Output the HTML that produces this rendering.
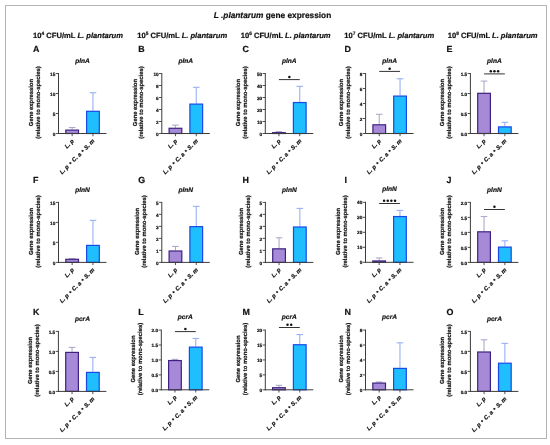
<!DOCTYPE html>
<html><head><meta charset="utf-8"><style>
html,body{margin:0;padding:0;background:#fff;}
svg{display:block;font-family:"Liberation Sans", sans-serif;will-change:transform;}
text{fill:#111;stroke:#111;stroke-width:0.2px;stroke-linejoin:round;text-rendering:geometricPrecision;}
</style></head><body>
<svg width="550" height="445" viewBox="0 0 550 445">
<rect width="550" height="445" fill="#fff"/>
<rect x="5.5" y="5.5" width="541" height="433" fill="none" stroke="#b4b4b4" stroke-width="1"/>
<text x="272.5" y="18.2" font-size="8.3" font-weight="bold" text-anchor="middle"><tspan font-style="italic">L .plantarum</tspan> gene expression</text>
<text x="33.10" y="38.0" font-size="7.6" font-weight="bold">10<tspan font-size="4.8" dy="-3.5">4</tspan><tspan dy="3.5"> CFU/mL </tspan><tspan font-style="italic">L. plantarum</tspan></text>
<text x="137.30" y="38.0" font-size="7.6" font-weight="bold">10<tspan font-size="4.8" dy="-3.5">5</tspan><tspan dy="3.5"> CFU/mL </tspan><tspan font-style="italic">L. plantarum</tspan></text>
<text x="240.70" y="38.0" font-size="7.6" font-weight="bold">10<tspan font-size="4.8" dy="-3.5">6</tspan><tspan dy="3.5"> CFU/mL </tspan><tspan font-style="italic">L. plantarum</tspan></text>
<text x="344.30" y="38.0" font-size="7.6" font-weight="bold">10<tspan font-size="4.8" dy="-3.5">7</tspan><tspan dy="3.5"> CFU/mL </tspan><tspan font-style="italic">L. plantarum</tspan></text>
<text x="447.70" y="38.0" font-size="7.6" font-weight="bold">10<tspan font-size="4.8" dy="-3.5">8</tspan><tspan dy="3.5"> CFU/mL </tspan><tspan font-style="italic">L. plantarum</tspan></text>
<text x="33.00" y="51.60" font-size="8.9" font-weight="bold" font-style="normal" text-anchor="start" >A</text>
<text x="82.50" y="62.65" font-size="6.6" font-weight="bold" font-style="italic" text-anchor="middle" >plnA</text>
<g transform="translate(33.27,102.60) rotate(-90)"><text x="0" y="0" font-size="5.85" font-weight="bold" text-anchor="middle">Gene expression</text><text x="0" y="6.9" font-size="5.85" font-weight="bold" text-anchor="middle">(relative to mono-species)</text></g>
<line x1="72.15" y1="127.50" x2="72.15" y2="129.50" stroke="#aeaac8" stroke-width="1.1"/>
<line x1="68.85" y1="127.50" x2="75.45" y2="127.50" stroke="#aeaac8" stroke-width="1.1"/>
<rect x="65.80" y="130.10" width="12.70" height="3.40" fill="#a68ad8" stroke="#3d2080" stroke-width="1.2"/>
<line x1="92.95" y1="92.70" x2="92.95" y2="110.70" stroke="#98b0f6" stroke-width="1.1"/>
<line x1="89.65" y1="92.70" x2="96.25" y2="92.70" stroke="#98b0f6" stroke-width="1.1"/>
<rect x="86.60" y="111.30" width="12.70" height="22.20" fill="#1ebeff" stroke="#1a48e8" stroke-width="1.2"/>
<line x1="58.50" y1="73.00" x2="58.50" y2="134.00" stroke="#3c3c3c" stroke-width="1"/>
<line x1="58.00" y1="133.50" x2="106.50" y2="133.50" stroke="#3c3c3c" stroke-width="1"/>
<line x1="55.80" y1="133.50" x2="58.50" y2="133.50" stroke="#3c3c3c" stroke-width="0.9"/>
<text x="55.30" y="135.60" font-size="4.7" font-weight="bold" font-style="normal" text-anchor="end" >0</text>
<line x1="55.80" y1="113.50" x2="58.50" y2="113.50" stroke="#3c3c3c" stroke-width="0.9"/>
<text x="55.30" y="115.60" font-size="4.7" font-weight="bold" font-style="normal" text-anchor="end" >5</text>
<line x1="55.80" y1="93.50" x2="58.50" y2="93.50" stroke="#3c3c3c" stroke-width="0.9"/>
<text x="55.30" y="95.60" font-size="4.7" font-weight="bold" font-style="normal" text-anchor="end" >10</text>
<line x1="55.80" y1="73.50" x2="58.50" y2="73.50" stroke="#3c3c3c" stroke-width="0.9"/>
<text x="55.30" y="75.60" font-size="4.7" font-weight="bold" font-style="normal" text-anchor="end" >15</text>
<line x1="72.15" y1="133.50" x2="72.15" y2="136.20" stroke="#3c3c3c" stroke-width="0.9"/>
<text transform="translate(74.25,141.40) rotate(-45)" font-size="5.85" font-weight="bold" font-style="italic" text-anchor="end">L. p</text>
<line x1="92.95" y1="133.50" x2="92.95" y2="136.20" stroke="#3c3c3c" stroke-width="0.9"/>
<text transform="translate(95.05,141.40) rotate(-45)" font-size="5.85" font-weight="bold" font-style="italic" text-anchor="end">L. p <tspan dx="0.7" font-size="6.6">•</tspan><tspan dx="0.5"> C. a </tspan><tspan dx="0.5" font-size="6.6">•</tspan><tspan dx="0.5"> S. m</tspan></text>
<text x="138.20" y="51.60" font-size="8.9" font-weight="bold" font-style="normal" text-anchor="start" >B</text>
<text x="185.80" y="62.65" font-size="6.6" font-weight="bold" font-style="italic" text-anchor="middle" >plnA</text>
<g transform="translate(136.57,102.60) rotate(-90)"><text x="0" y="0" font-size="5.85" font-weight="bold" text-anchor="middle">Gene expression</text><text x="0" y="6.9" font-size="5.85" font-weight="bold" text-anchor="middle">(relative to mono-species)</text></g>
<line x1="175.45" y1="125.10" x2="175.45" y2="127.68" stroke="#aeaac8" stroke-width="1.1"/>
<line x1="172.15" y1="125.10" x2="178.75" y2="125.10" stroke="#aeaac8" stroke-width="1.1"/>
<rect x="169.10" y="128.28" width="12.70" height="5.22" fill="#a68ad8" stroke="#3d2080" stroke-width="1.2"/>
<line x1="196.25" y1="87.30" x2="196.25" y2="103.50" stroke="#98b0f6" stroke-width="1.1"/>
<line x1="192.95" y1="87.30" x2="199.55" y2="87.30" stroke="#98b0f6" stroke-width="1.1"/>
<rect x="189.90" y="104.10" width="12.70" height="29.40" fill="#1ebeff" stroke="#1a48e8" stroke-width="1.2"/>
<line x1="161.80" y1="73.00" x2="161.80" y2="134.00" stroke="#3c3c3c" stroke-width="1"/>
<line x1="161.30" y1="133.50" x2="209.80" y2="133.50" stroke="#3c3c3c" stroke-width="1"/>
<line x1="159.10" y1="133.50" x2="161.80" y2="133.50" stroke="#3c3c3c" stroke-width="0.9"/>
<text x="158.60" y="135.60" font-size="4.7" font-weight="bold" font-style="normal" text-anchor="end" >0</text>
<line x1="159.10" y1="121.50" x2="161.80" y2="121.50" stroke="#3c3c3c" stroke-width="0.9"/>
<text x="158.60" y="123.60" font-size="4.7" font-weight="bold" font-style="normal" text-anchor="end" >2</text>
<line x1="159.10" y1="109.50" x2="161.80" y2="109.50" stroke="#3c3c3c" stroke-width="0.9"/>
<text x="158.60" y="111.60" font-size="4.7" font-weight="bold" font-style="normal" text-anchor="end" >4</text>
<line x1="159.10" y1="97.50" x2="161.80" y2="97.50" stroke="#3c3c3c" stroke-width="0.9"/>
<text x="158.60" y="99.60" font-size="4.7" font-weight="bold" font-style="normal" text-anchor="end" >6</text>
<line x1="159.10" y1="85.50" x2="161.80" y2="85.50" stroke="#3c3c3c" stroke-width="0.9"/>
<text x="158.60" y="87.60" font-size="4.7" font-weight="bold" font-style="normal" text-anchor="end" >8</text>
<line x1="159.10" y1="73.50" x2="161.80" y2="73.50" stroke="#3c3c3c" stroke-width="0.9"/>
<text x="158.60" y="75.60" font-size="4.7" font-weight="bold" font-style="normal" text-anchor="end" >10</text>
<line x1="175.45" y1="133.50" x2="175.45" y2="136.20" stroke="#3c3c3c" stroke-width="0.9"/>
<text transform="translate(177.55,141.40) rotate(-45)" font-size="5.85" font-weight="bold" font-style="italic" text-anchor="end">L. p</text>
<line x1="196.25" y1="133.50" x2="196.25" y2="136.20" stroke="#3c3c3c" stroke-width="0.9"/>
<text transform="translate(198.35,141.40) rotate(-45)" font-size="5.85" font-weight="bold" font-style="italic" text-anchor="end">L. p <tspan dx="0.7" font-size="6.6">•</tspan><tspan dx="0.5"> C. a </tspan><tspan dx="0.5" font-size="6.6">•</tspan><tspan dx="0.5"> S. m</tspan></text>
<text x="242.60" y="51.60" font-size="8.9" font-weight="bold" font-style="normal" text-anchor="start" >C</text>
<text x="289.30" y="62.65" font-size="6.6" font-weight="bold" font-style="italic" text-anchor="middle" >plnA</text>
<g transform="translate(240.07,102.60) rotate(-90)"><text x="0" y="0" font-size="5.85" font-weight="bold" text-anchor="middle">Gene expression</text><text x="0" y="6.9" font-size="5.85" font-weight="bold" text-anchor="middle">(relative to mono-species)</text></g>
<line x1="278.95" y1="131.58" x2="278.95" y2="132.06" stroke="#aeaac8" stroke-width="1.1"/>
<line x1="275.65" y1="131.58" x2="282.25" y2="131.58" stroke="#aeaac8" stroke-width="1.1"/>
<rect x="272.60" y="132.66" width="12.70" height="0.84" fill="#a68ad8" stroke="#3d2080" stroke-width="1.2"/>
<line x1="299.75" y1="86.34" x2="299.75" y2="101.94" stroke="#98b0f6" stroke-width="1.1"/>
<line x1="296.45" y1="86.34" x2="303.05" y2="86.34" stroke="#98b0f6" stroke-width="1.1"/>
<rect x="293.40" y="102.54" width="12.70" height="30.96" fill="#1ebeff" stroke="#1a48e8" stroke-width="1.2"/>
<line x1="265.30" y1="73.00" x2="265.30" y2="134.00" stroke="#3c3c3c" stroke-width="1"/>
<line x1="264.80" y1="133.50" x2="313.30" y2="133.50" stroke="#3c3c3c" stroke-width="1"/>
<line x1="262.60" y1="133.50" x2="265.30" y2="133.50" stroke="#3c3c3c" stroke-width="0.9"/>
<text x="262.10" y="135.60" font-size="4.7" font-weight="bold" font-style="normal" text-anchor="end" >0</text>
<line x1="262.60" y1="121.50" x2="265.30" y2="121.50" stroke="#3c3c3c" stroke-width="0.9"/>
<text x="262.10" y="123.60" font-size="4.7" font-weight="bold" font-style="normal" text-anchor="end" >10</text>
<line x1="262.60" y1="109.50" x2="265.30" y2="109.50" stroke="#3c3c3c" stroke-width="0.9"/>
<text x="262.10" y="111.60" font-size="4.7" font-weight="bold" font-style="normal" text-anchor="end" >20</text>
<line x1="262.60" y1="97.50" x2="265.30" y2="97.50" stroke="#3c3c3c" stroke-width="0.9"/>
<text x="262.10" y="99.60" font-size="4.7" font-weight="bold" font-style="normal" text-anchor="end" >30</text>
<line x1="262.60" y1="85.50" x2="265.30" y2="85.50" stroke="#3c3c3c" stroke-width="0.9"/>
<text x="262.10" y="87.60" font-size="4.7" font-weight="bold" font-style="normal" text-anchor="end" >40</text>
<line x1="262.60" y1="73.50" x2="265.30" y2="73.50" stroke="#3c3c3c" stroke-width="0.9"/>
<text x="262.10" y="75.60" font-size="4.7" font-weight="bold" font-style="normal" text-anchor="end" >50</text>
<line x1="278.95" y1="133.50" x2="278.95" y2="136.20" stroke="#3c3c3c" stroke-width="0.9"/>
<text transform="translate(281.05,141.40) rotate(-45)" font-size="5.85" font-weight="bold" font-style="italic" text-anchor="end">L. p</text>
<line x1="299.75" y1="133.50" x2="299.75" y2="136.20" stroke="#3c3c3c" stroke-width="0.9"/>
<text transform="translate(301.85,141.40) rotate(-45)" font-size="5.85" font-weight="bold" font-style="italic" text-anchor="end">L. p <tspan dx="0.7" font-size="6.6">•</tspan><tspan dx="0.5"> C. a </tspan><tspan dx="0.5" font-size="6.6">•</tspan><tspan dx="0.5"> S. m</tspan></text>
<line x1="278.95" y1="79.60" x2="299.75" y2="79.60" stroke="#333" stroke-width="1"/>
<circle cx="289.35" cy="76.90" r="1.25" fill="#111"/>
<text x="344.40" y="51.60" font-size="8.9" font-weight="bold" font-style="normal" text-anchor="start" >D</text>
<text x="389.60" y="62.65" font-size="6.6" font-weight="bold" font-style="italic" text-anchor="middle" >plnA</text>
<g transform="translate(342.99,102.60) rotate(-90)"><text x="0" y="0" font-size="5.85" font-weight="bold" text-anchor="middle">Gene expression</text><text x="0" y="6.9" font-size="5.85" font-weight="bold" text-anchor="middle">(relative to mono-species)</text></g>
<line x1="379.25" y1="114.30" x2="379.25" y2="124.20" stroke="#aeaac8" stroke-width="1.1"/>
<line x1="375.95" y1="114.30" x2="382.55" y2="114.30" stroke="#aeaac8" stroke-width="1.1"/>
<rect x="372.90" y="124.80" width="12.70" height="8.70" fill="#a68ad8" stroke="#3d2080" stroke-width="1.2"/>
<line x1="400.05" y1="78.75" x2="400.05" y2="95.47" stroke="#98b0f6" stroke-width="1.1"/>
<line x1="396.75" y1="78.75" x2="403.35" y2="78.75" stroke="#98b0f6" stroke-width="1.1"/>
<rect x="393.70" y="96.07" width="12.70" height="37.43" fill="#1ebeff" stroke="#1a48e8" stroke-width="1.2"/>
<line x1="365.60" y1="73.00" x2="365.60" y2="134.00" stroke="#3c3c3c" stroke-width="1"/>
<line x1="365.10" y1="133.50" x2="413.60" y2="133.50" stroke="#3c3c3c" stroke-width="1"/>
<line x1="362.90" y1="133.50" x2="365.60" y2="133.50" stroke="#3c3c3c" stroke-width="0.9"/>
<text x="362.40" y="135.60" font-size="4.7" font-weight="bold" font-style="normal" text-anchor="end" >0</text>
<line x1="362.90" y1="118.50" x2="365.60" y2="118.50" stroke="#3c3c3c" stroke-width="0.9"/>
<text x="362.40" y="120.60" font-size="4.7" font-weight="bold" font-style="normal" text-anchor="end" >2</text>
<line x1="362.90" y1="103.50" x2="365.60" y2="103.50" stroke="#3c3c3c" stroke-width="0.9"/>
<text x="362.40" y="105.60" font-size="4.7" font-weight="bold" font-style="normal" text-anchor="end" >4</text>
<line x1="362.90" y1="88.50" x2="365.60" y2="88.50" stroke="#3c3c3c" stroke-width="0.9"/>
<text x="362.40" y="90.60" font-size="4.7" font-weight="bold" font-style="normal" text-anchor="end" >6</text>
<line x1="362.90" y1="73.50" x2="365.60" y2="73.50" stroke="#3c3c3c" stroke-width="0.9"/>
<text x="362.40" y="75.60" font-size="4.7" font-weight="bold" font-style="normal" text-anchor="end" >8</text>
<line x1="379.25" y1="133.50" x2="379.25" y2="136.20" stroke="#3c3c3c" stroke-width="0.9"/>
<text transform="translate(381.35,141.40) rotate(-45)" font-size="5.85" font-weight="bold" font-style="italic" text-anchor="end">L. p</text>
<line x1="400.05" y1="133.50" x2="400.05" y2="136.20" stroke="#3c3c3c" stroke-width="0.9"/>
<text transform="translate(402.15,141.40) rotate(-45)" font-size="5.85" font-weight="bold" font-style="italic" text-anchor="end">L. p <tspan dx="0.7" font-size="6.6">•</tspan><tspan dx="0.5"> C. a </tspan><tspan dx="0.5" font-size="6.6">•</tspan><tspan dx="0.5"> S. m</tspan></text>
<line x1="379.25" y1="71.40" x2="400.05" y2="71.40" stroke="#333" stroke-width="1"/>
<circle cx="389.65" cy="68.70" r="1.25" fill="#111"/>
<text x="446.40" y="51.60" font-size="8.9" font-weight="bold" font-style="normal" text-anchor="start" >E</text>
<text x="494.40" y="62.65" font-size="6.6" font-weight="bold" font-style="italic" text-anchor="middle" >plnA</text>
<g transform="translate(443.87,102.60) rotate(-90)"><text x="0" y="0" font-size="5.85" font-weight="bold" text-anchor="middle">Gene expression</text><text x="0" y="6.9" font-size="5.85" font-weight="bold" text-anchor="middle">(relative to mono-species)</text></g>
<line x1="484.05" y1="81.10" x2="484.05" y2="92.70" stroke="#aeaac8" stroke-width="1.1"/>
<line x1="480.75" y1="81.10" x2="487.35" y2="81.10" stroke="#aeaac8" stroke-width="1.1"/>
<rect x="477.70" y="93.30" width="12.70" height="40.20" fill="#a68ad8" stroke="#3d2080" stroke-width="1.2"/>
<line x1="504.85" y1="122.30" x2="504.85" y2="126.30" stroke="#98b0f6" stroke-width="1.1"/>
<line x1="501.55" y1="122.30" x2="508.15" y2="122.30" stroke="#98b0f6" stroke-width="1.1"/>
<rect x="498.50" y="126.90" width="12.70" height="6.60" fill="#1ebeff" stroke="#1a48e8" stroke-width="1.2"/>
<line x1="470.40" y1="73.00" x2="470.40" y2="134.00" stroke="#3c3c3c" stroke-width="1"/>
<line x1="469.90" y1="133.50" x2="518.40" y2="133.50" stroke="#3c3c3c" stroke-width="1"/>
<line x1="467.70" y1="133.50" x2="470.40" y2="133.50" stroke="#3c3c3c" stroke-width="0.9"/>
<text x="467.20" y="135.60" font-size="4.7" font-weight="bold" font-style="normal" text-anchor="end" >0.0</text>
<line x1="467.70" y1="113.50" x2="470.40" y2="113.50" stroke="#3c3c3c" stroke-width="0.9"/>
<text x="467.20" y="115.60" font-size="4.7" font-weight="bold" font-style="normal" text-anchor="end" >0.5</text>
<line x1="467.70" y1="93.50" x2="470.40" y2="93.50" stroke="#3c3c3c" stroke-width="0.9"/>
<text x="467.20" y="95.60" font-size="4.7" font-weight="bold" font-style="normal" text-anchor="end" >1.0</text>
<line x1="467.70" y1="73.50" x2="470.40" y2="73.50" stroke="#3c3c3c" stroke-width="0.9"/>
<text x="467.20" y="75.60" font-size="4.7" font-weight="bold" font-style="normal" text-anchor="end" >1.5</text>
<line x1="484.05" y1="133.50" x2="484.05" y2="136.20" stroke="#3c3c3c" stroke-width="0.9"/>
<text transform="translate(486.15,141.40) rotate(-45)" font-size="5.85" font-weight="bold" font-style="italic" text-anchor="end">L. p</text>
<line x1="504.85" y1="133.50" x2="504.85" y2="136.20" stroke="#3c3c3c" stroke-width="0.9"/>
<text transform="translate(506.95,141.40) rotate(-45)" font-size="5.85" font-weight="bold" font-style="italic" text-anchor="end">L. p <tspan dx="0.7" font-size="6.6">•</tspan><tspan dx="0.5"> C. a </tspan><tspan dx="0.5" font-size="6.6">•</tspan><tspan dx="0.5"> S. m</tspan></text>
<line x1="484.05" y1="73.90" x2="504.85" y2="73.90" stroke="#333" stroke-width="1"/>
<circle cx="490.80" cy="71.20" r="1.25" fill="#111"/>
<circle cx="494.45" cy="71.20" r="1.25" fill="#111"/>
<circle cx="498.10" cy="71.20" r="1.25" fill="#111"/>
<text x="33.00" y="183.00" font-size="8.9" font-weight="bold" font-style="normal" text-anchor="start" >F</text>
<text x="82.50" y="191.55" font-size="6.6" font-weight="bold" font-style="italic" text-anchor="middle" >plnN</text>
<g transform="translate(33.27,231.50) rotate(-90)"><text x="0" y="0" font-size="5.85" font-weight="bold" text-anchor="middle">Gene expression</text><text x="0" y="6.9" font-size="5.85" font-weight="bold" text-anchor="middle">(relative to mono-species)</text></g>
<line x1="72.15" y1="258.68" x2="72.15" y2="258.68" stroke="#aeaac8" stroke-width="1.1"/>
<line x1="68.85" y1="258.68" x2="75.45" y2="258.68" stroke="#aeaac8" stroke-width="1.1"/>
<rect x="65.80" y="259.28" width="12.70" height="3.12" fill="#a68ad8" stroke="#3d2080" stroke-width="1.2"/>
<line x1="92.95" y1="220.40" x2="92.95" y2="244.80" stroke="#98b0f6" stroke-width="1.1"/>
<line x1="89.65" y1="220.40" x2="96.25" y2="220.40" stroke="#98b0f6" stroke-width="1.1"/>
<rect x="86.60" y="245.40" width="12.70" height="17.00" fill="#1ebeff" stroke="#1a48e8" stroke-width="1.2"/>
<line x1="58.50" y1="201.90" x2="58.50" y2="262.90" stroke="#3c3c3c" stroke-width="1"/>
<line x1="58.00" y1="262.40" x2="106.50" y2="262.40" stroke="#3c3c3c" stroke-width="1"/>
<line x1="55.80" y1="262.40" x2="58.50" y2="262.40" stroke="#3c3c3c" stroke-width="0.9"/>
<text x="55.30" y="264.50" font-size="4.7" font-weight="bold" font-style="normal" text-anchor="end" >0</text>
<line x1="55.80" y1="242.40" x2="58.50" y2="242.40" stroke="#3c3c3c" stroke-width="0.9"/>
<text x="55.30" y="244.50" font-size="4.7" font-weight="bold" font-style="normal" text-anchor="end" >5</text>
<line x1="55.80" y1="222.40" x2="58.50" y2="222.40" stroke="#3c3c3c" stroke-width="0.9"/>
<text x="55.30" y="224.50" font-size="4.7" font-weight="bold" font-style="normal" text-anchor="end" >10</text>
<line x1="55.80" y1="202.40" x2="58.50" y2="202.40" stroke="#3c3c3c" stroke-width="0.9"/>
<text x="55.30" y="204.50" font-size="4.7" font-weight="bold" font-style="normal" text-anchor="end" >15</text>
<line x1="72.15" y1="262.40" x2="72.15" y2="265.10" stroke="#3c3c3c" stroke-width="0.9"/>
<text transform="translate(74.25,270.30) rotate(-45)" font-size="5.85" font-weight="bold" font-style="italic" text-anchor="end">L. p</text>
<line x1="92.95" y1="262.40" x2="92.95" y2="265.10" stroke="#3c3c3c" stroke-width="0.9"/>
<text transform="translate(95.05,270.30) rotate(-45)" font-size="5.85" font-weight="bold" font-style="italic" text-anchor="end">L. p <tspan dx="0.7" font-size="6.6">•</tspan><tspan dx="0.5"> C. a </tspan><tspan dx="0.5" font-size="6.6">•</tspan><tspan dx="0.5"> S. m</tspan></text>
<text x="138.20" y="183.00" font-size="8.9" font-weight="bold" font-style="normal" text-anchor="start" >G</text>
<text x="185.80" y="191.55" font-size="6.6" font-weight="bold" font-style="italic" text-anchor="middle" >plnN</text>
<g transform="translate(139.19,231.50) rotate(-90)"><text x="0" y="0" font-size="5.85" font-weight="bold" text-anchor="middle">Gene expression</text><text x="0" y="6.9" font-size="5.85" font-weight="bold" text-anchor="middle">(relative to mono-species)</text></g>
<line x1="175.45" y1="246.44" x2="175.45" y2="250.40" stroke="#aeaac8" stroke-width="1.1"/>
<line x1="172.15" y1="246.44" x2="178.75" y2="246.44" stroke="#aeaac8" stroke-width="1.1"/>
<rect x="169.10" y="251.00" width="12.70" height="11.40" fill="#a68ad8" stroke="#3d2080" stroke-width="1.2"/>
<line x1="196.25" y1="206.36" x2="196.25" y2="226.04" stroke="#98b0f6" stroke-width="1.1"/>
<line x1="192.95" y1="206.36" x2="199.55" y2="206.36" stroke="#98b0f6" stroke-width="1.1"/>
<rect x="189.90" y="226.64" width="12.70" height="35.76" fill="#1ebeff" stroke="#1a48e8" stroke-width="1.2"/>
<line x1="161.80" y1="201.90" x2="161.80" y2="262.90" stroke="#3c3c3c" stroke-width="1"/>
<line x1="161.30" y1="262.40" x2="209.80" y2="262.40" stroke="#3c3c3c" stroke-width="1"/>
<line x1="159.10" y1="262.40" x2="161.80" y2="262.40" stroke="#3c3c3c" stroke-width="0.9"/>
<text x="158.60" y="264.50" font-size="4.7" font-weight="bold" font-style="normal" text-anchor="end" >0</text>
<line x1="159.10" y1="250.40" x2="161.80" y2="250.40" stroke="#3c3c3c" stroke-width="0.9"/>
<text x="158.60" y="252.50" font-size="4.7" font-weight="bold" font-style="normal" text-anchor="end" >1</text>
<line x1="159.10" y1="238.40" x2="161.80" y2="238.40" stroke="#3c3c3c" stroke-width="0.9"/>
<text x="158.60" y="240.50" font-size="4.7" font-weight="bold" font-style="normal" text-anchor="end" >2</text>
<line x1="159.10" y1="226.40" x2="161.80" y2="226.40" stroke="#3c3c3c" stroke-width="0.9"/>
<text x="158.60" y="228.50" font-size="4.7" font-weight="bold" font-style="normal" text-anchor="end" >3</text>
<line x1="159.10" y1="214.40" x2="161.80" y2="214.40" stroke="#3c3c3c" stroke-width="0.9"/>
<text x="158.60" y="216.50" font-size="4.7" font-weight="bold" font-style="normal" text-anchor="end" >4</text>
<line x1="159.10" y1="202.40" x2="161.80" y2="202.40" stroke="#3c3c3c" stroke-width="0.9"/>
<text x="158.60" y="204.50" font-size="4.7" font-weight="bold" font-style="normal" text-anchor="end" >5</text>
<line x1="175.45" y1="262.40" x2="175.45" y2="265.10" stroke="#3c3c3c" stroke-width="0.9"/>
<text transform="translate(177.55,270.30) rotate(-45)" font-size="5.85" font-weight="bold" font-style="italic" text-anchor="end">L. p</text>
<line x1="196.25" y1="262.40" x2="196.25" y2="265.10" stroke="#3c3c3c" stroke-width="0.9"/>
<text transform="translate(198.35,270.30) rotate(-45)" font-size="5.85" font-weight="bold" font-style="italic" text-anchor="end">L. p <tspan dx="0.7" font-size="6.6">•</tspan><tspan dx="0.5"> C. a </tspan><tspan dx="0.5" font-size="6.6">•</tspan><tspan dx="0.5"> S. m</tspan></text>
<text x="242.60" y="183.00" font-size="8.9" font-weight="bold" font-style="normal" text-anchor="start" >H</text>
<text x="289.40" y="191.55" font-size="6.6" font-weight="bold" font-style="italic" text-anchor="middle" >plnN</text>
<g transform="translate(242.79,231.50) rotate(-90)"><text x="0" y="0" font-size="5.85" font-weight="bold" text-anchor="middle">Gene expression</text><text x="0" y="6.9" font-size="5.85" font-weight="bold" text-anchor="middle">(relative to mono-species)</text></g>
<line x1="279.05" y1="237.80" x2="279.05" y2="248.24" stroke="#aeaac8" stroke-width="1.1"/>
<line x1="275.75" y1="237.80" x2="282.35" y2="237.80" stroke="#aeaac8" stroke-width="1.1"/>
<rect x="272.70" y="248.84" width="12.70" height="13.56" fill="#a68ad8" stroke="#3d2080" stroke-width="1.2"/>
<line x1="299.85" y1="208.40" x2="299.85" y2="226.40" stroke="#98b0f6" stroke-width="1.1"/>
<line x1="296.55" y1="208.40" x2="303.15" y2="208.40" stroke="#98b0f6" stroke-width="1.1"/>
<rect x="293.50" y="227.00" width="12.70" height="35.40" fill="#1ebeff" stroke="#1a48e8" stroke-width="1.2"/>
<line x1="265.40" y1="201.90" x2="265.40" y2="262.90" stroke="#3c3c3c" stroke-width="1"/>
<line x1="264.90" y1="262.40" x2="313.40" y2="262.40" stroke="#3c3c3c" stroke-width="1"/>
<line x1="262.70" y1="262.40" x2="265.40" y2="262.40" stroke="#3c3c3c" stroke-width="0.9"/>
<text x="262.20" y="264.50" font-size="4.7" font-weight="bold" font-style="normal" text-anchor="end" >0</text>
<line x1="262.70" y1="250.40" x2="265.40" y2="250.40" stroke="#3c3c3c" stroke-width="0.9"/>
<text x="262.20" y="252.50" font-size="4.7" font-weight="bold" font-style="normal" text-anchor="end" >1</text>
<line x1="262.70" y1="238.40" x2="265.40" y2="238.40" stroke="#3c3c3c" stroke-width="0.9"/>
<text x="262.20" y="240.50" font-size="4.7" font-weight="bold" font-style="normal" text-anchor="end" >2</text>
<line x1="262.70" y1="226.40" x2="265.40" y2="226.40" stroke="#3c3c3c" stroke-width="0.9"/>
<text x="262.20" y="228.50" font-size="4.7" font-weight="bold" font-style="normal" text-anchor="end" >3</text>
<line x1="262.70" y1="214.40" x2="265.40" y2="214.40" stroke="#3c3c3c" stroke-width="0.9"/>
<text x="262.20" y="216.50" font-size="4.7" font-weight="bold" font-style="normal" text-anchor="end" >4</text>
<line x1="262.70" y1="202.40" x2="265.40" y2="202.40" stroke="#3c3c3c" stroke-width="0.9"/>
<text x="262.20" y="204.50" font-size="4.7" font-weight="bold" font-style="normal" text-anchor="end" >5</text>
<line x1="279.05" y1="262.40" x2="279.05" y2="265.10" stroke="#3c3c3c" stroke-width="0.9"/>
<text transform="translate(281.15,270.30) rotate(-45)" font-size="5.85" font-weight="bold" font-style="italic" text-anchor="end">L. p</text>
<line x1="299.85" y1="262.40" x2="299.85" y2="265.10" stroke="#3c3c3c" stroke-width="0.9"/>
<text transform="translate(301.95,270.30) rotate(-45)" font-size="5.85" font-weight="bold" font-style="italic" text-anchor="end">L. p <tspan dx="0.7" font-size="6.6">•</tspan><tspan dx="0.5"> C. a </tspan><tspan dx="0.5" font-size="6.6">•</tspan><tspan dx="0.5"> S. m</tspan></text>
<text x="344.40" y="183.00" font-size="8.9" font-weight="bold" font-style="normal" text-anchor="start" >I</text>
<text x="389.50" y="191.45" font-size="6.6" font-weight="bold" font-style="italic" text-anchor="middle" >plnN</text>
<g transform="translate(340.27,231.40) rotate(-90)"><text x="0" y="0" font-size="5.85" font-weight="bold" text-anchor="middle">Gene expression</text><text x="0" y="6.9" font-size="5.85" font-weight="bold" text-anchor="middle">(relative to mono-species)</text></g>
<line x1="379.15" y1="257.95" x2="379.15" y2="260.35" stroke="#aeaac8" stroke-width="1.1"/>
<line x1="375.85" y1="257.95" x2="382.45" y2="257.95" stroke="#aeaac8" stroke-width="1.1"/>
<rect x="372.80" y="260.95" width="12.70" height="1.35" fill="#a68ad8" stroke="#3d2080" stroke-width="1.2"/>
<line x1="399.95" y1="210.40" x2="399.95" y2="215.95" stroke="#98b0f6" stroke-width="1.1"/>
<line x1="396.65" y1="210.40" x2="403.25" y2="210.40" stroke="#98b0f6" stroke-width="1.1"/>
<rect x="393.60" y="216.55" width="12.70" height="45.75" fill="#1ebeff" stroke="#1a48e8" stroke-width="1.2"/>
<line x1="365.50" y1="201.80" x2="365.50" y2="262.80" stroke="#3c3c3c" stroke-width="1"/>
<line x1="365.00" y1="262.30" x2="413.50" y2="262.30" stroke="#3c3c3c" stroke-width="1"/>
<line x1="362.80" y1="262.30" x2="365.50" y2="262.30" stroke="#3c3c3c" stroke-width="0.9"/>
<text x="362.30" y="264.40" font-size="4.7" font-weight="bold" font-style="normal" text-anchor="end" >0</text>
<line x1="362.80" y1="247.30" x2="365.50" y2="247.30" stroke="#3c3c3c" stroke-width="0.9"/>
<text x="362.30" y="249.40" font-size="4.7" font-weight="bold" font-style="normal" text-anchor="end" >10</text>
<line x1="362.80" y1="232.30" x2="365.50" y2="232.30" stroke="#3c3c3c" stroke-width="0.9"/>
<text x="362.30" y="234.40" font-size="4.7" font-weight="bold" font-style="normal" text-anchor="end" >20</text>
<line x1="362.80" y1="217.30" x2="365.50" y2="217.30" stroke="#3c3c3c" stroke-width="0.9"/>
<text x="362.30" y="219.40" font-size="4.7" font-weight="bold" font-style="normal" text-anchor="end" >30</text>
<line x1="362.80" y1="202.30" x2="365.50" y2="202.30" stroke="#3c3c3c" stroke-width="0.9"/>
<text x="362.30" y="204.40" font-size="4.7" font-weight="bold" font-style="normal" text-anchor="end" >40</text>
<line x1="379.15" y1="262.30" x2="379.15" y2="265.00" stroke="#3c3c3c" stroke-width="0.9"/>
<text transform="translate(381.25,270.20) rotate(-45)" font-size="5.85" font-weight="bold" font-style="italic" text-anchor="end">L. p</text>
<line x1="399.95" y1="262.30" x2="399.95" y2="265.00" stroke="#3c3c3c" stroke-width="0.9"/>
<text transform="translate(402.05,270.20) rotate(-45)" font-size="5.85" font-weight="bold" font-style="italic" text-anchor="end">L. p <tspan dx="0.7" font-size="6.6">•</tspan><tspan dx="0.5"> C. a </tspan><tspan dx="0.5" font-size="6.6">•</tspan><tspan dx="0.5"> S. m</tspan></text>
<line x1="379.15" y1="203.50" x2="399.95" y2="203.50" stroke="#333" stroke-width="1"/>
<circle cx="384.07" cy="200.80" r="1.25" fill="#111"/>
<circle cx="387.72" cy="200.80" r="1.25" fill="#111"/>
<circle cx="391.37" cy="200.80" r="1.25" fill="#111"/>
<circle cx="395.02" cy="200.80" r="1.25" fill="#111"/>
<text x="446.40" y="183.00" font-size="8.9" font-weight="bold" font-style="normal" text-anchor="start" >J</text>
<text x="494.40" y="191.55" font-size="6.6" font-weight="bold" font-style="italic" text-anchor="middle" >plnN</text>
<g transform="translate(443.87,231.50) rotate(-90)"><text x="0" y="0" font-size="5.85" font-weight="bold" text-anchor="middle">Gene expression</text><text x="0" y="6.9" font-size="5.85" font-weight="bold" text-anchor="middle">(relative to mono-species)</text></g>
<line x1="484.05" y1="216.50" x2="484.05" y2="231.20" stroke="#aeaac8" stroke-width="1.1"/>
<line x1="480.75" y1="216.50" x2="487.35" y2="216.50" stroke="#aeaac8" stroke-width="1.1"/>
<rect x="477.70" y="231.80" width="12.70" height="30.60" fill="#a68ad8" stroke="#3d2080" stroke-width="1.2"/>
<line x1="504.85" y1="240.80" x2="504.85" y2="246.50" stroke="#98b0f6" stroke-width="1.1"/>
<line x1="501.55" y1="240.80" x2="508.15" y2="240.80" stroke="#98b0f6" stroke-width="1.1"/>
<rect x="498.50" y="247.10" width="12.70" height="15.30" fill="#1ebeff" stroke="#1a48e8" stroke-width="1.2"/>
<line x1="470.40" y1="201.90" x2="470.40" y2="262.90" stroke="#3c3c3c" stroke-width="1"/>
<line x1="469.90" y1="262.40" x2="518.40" y2="262.40" stroke="#3c3c3c" stroke-width="1"/>
<line x1="467.70" y1="262.40" x2="470.40" y2="262.40" stroke="#3c3c3c" stroke-width="0.9"/>
<text x="467.20" y="264.50" font-size="4.7" font-weight="bold" font-style="normal" text-anchor="end" >0.0</text>
<line x1="467.70" y1="247.40" x2="470.40" y2="247.40" stroke="#3c3c3c" stroke-width="0.9"/>
<text x="467.20" y="249.50" font-size="4.7" font-weight="bold" font-style="normal" text-anchor="end" >0.5</text>
<line x1="467.70" y1="232.40" x2="470.40" y2="232.40" stroke="#3c3c3c" stroke-width="0.9"/>
<text x="467.20" y="234.50" font-size="4.7" font-weight="bold" font-style="normal" text-anchor="end" >1.0</text>
<line x1="467.70" y1="217.40" x2="470.40" y2="217.40" stroke="#3c3c3c" stroke-width="0.9"/>
<text x="467.20" y="219.50" font-size="4.7" font-weight="bold" font-style="normal" text-anchor="end" >1.5</text>
<line x1="467.70" y1="202.40" x2="470.40" y2="202.40" stroke="#3c3c3c" stroke-width="0.9"/>
<text x="467.20" y="204.50" font-size="4.7" font-weight="bold" font-style="normal" text-anchor="end" >2.0</text>
<line x1="484.05" y1="262.40" x2="484.05" y2="265.10" stroke="#3c3c3c" stroke-width="0.9"/>
<text transform="translate(486.15,270.30) rotate(-45)" font-size="5.85" font-weight="bold" font-style="italic" text-anchor="end">L. p</text>
<line x1="504.85" y1="262.40" x2="504.85" y2="265.10" stroke="#3c3c3c" stroke-width="0.9"/>
<text transform="translate(506.95,270.30) rotate(-45)" font-size="5.85" font-weight="bold" font-style="italic" text-anchor="end">L. p <tspan dx="0.7" font-size="6.6">•</tspan><tspan dx="0.5"> C. a </tspan><tspan dx="0.5" font-size="6.6">•</tspan><tspan dx="0.5"> S. m</tspan></text>
<line x1="484.05" y1="209.50" x2="504.85" y2="209.50" stroke="#333" stroke-width="1"/>
<circle cx="494.45" cy="206.80" r="1.25" fill="#111"/>
<text x="33.00" y="314.90" font-size="8.9" font-weight="bold" font-style="normal" text-anchor="start" >K</text>
<text x="82.40" y="320.55" font-size="6.6" font-weight="bold" font-style="italic" text-anchor="middle" >pcrA</text>
<g transform="translate(31.87,360.50) rotate(-90)"><text x="0" y="0" font-size="5.85" font-weight="bold" text-anchor="middle">Gene expression</text><text x="0" y="6.9" font-size="5.85" font-weight="bold" text-anchor="middle">(relative to mono-species)</text></g>
<line x1="72.05" y1="347.40" x2="72.05" y2="351.80" stroke="#aeaac8" stroke-width="1.1"/>
<line x1="68.75" y1="347.40" x2="75.35" y2="347.40" stroke="#aeaac8" stroke-width="1.1"/>
<rect x="65.70" y="352.40" width="12.70" height="39.00" fill="#a68ad8" stroke="#3d2080" stroke-width="1.2"/>
<line x1="92.85" y1="357.40" x2="92.85" y2="371.80" stroke="#98b0f6" stroke-width="1.1"/>
<line x1="89.55" y1="357.40" x2="96.15" y2="357.40" stroke="#98b0f6" stroke-width="1.1"/>
<rect x="86.50" y="372.40" width="12.70" height="19.00" fill="#1ebeff" stroke="#1a48e8" stroke-width="1.2"/>
<line x1="58.40" y1="330.90" x2="58.40" y2="391.90" stroke="#3c3c3c" stroke-width="1"/>
<line x1="57.90" y1="391.40" x2="106.40" y2="391.40" stroke="#3c3c3c" stroke-width="1"/>
<line x1="55.70" y1="391.40" x2="58.40" y2="391.40" stroke="#3c3c3c" stroke-width="0.9"/>
<text x="55.20" y="393.50" font-size="4.7" font-weight="bold" font-style="normal" text-anchor="end" >0.0</text>
<line x1="55.70" y1="371.40" x2="58.40" y2="371.40" stroke="#3c3c3c" stroke-width="0.9"/>
<text x="55.20" y="373.50" font-size="4.7" font-weight="bold" font-style="normal" text-anchor="end" >0.5</text>
<line x1="55.70" y1="351.40" x2="58.40" y2="351.40" stroke="#3c3c3c" stroke-width="0.9"/>
<text x="55.20" y="353.50" font-size="4.7" font-weight="bold" font-style="normal" text-anchor="end" >1.0</text>
<line x1="55.70" y1="331.40" x2="58.40" y2="331.40" stroke="#3c3c3c" stroke-width="0.9"/>
<text x="55.20" y="333.50" font-size="4.7" font-weight="bold" font-style="normal" text-anchor="end" >1.5</text>
<line x1="72.05" y1="391.40" x2="72.05" y2="394.10" stroke="#3c3c3c" stroke-width="0.9"/>
<text transform="translate(74.15,399.30) rotate(-45)" font-size="5.85" font-weight="bold" font-style="italic" text-anchor="end">L. p</text>
<line x1="92.85" y1="391.40" x2="92.85" y2="394.10" stroke="#3c3c3c" stroke-width="0.9"/>
<text transform="translate(94.95,399.30) rotate(-45)" font-size="5.85" font-weight="bold" font-style="italic" text-anchor="end">L. p <tspan dx="0.7" font-size="6.6">•</tspan><tspan dx="0.5"> C. a </tspan><tspan dx="0.5" font-size="6.6">•</tspan><tspan dx="0.5"> S. m</tspan></text>
<text x="138.20" y="314.90" font-size="8.9" font-weight="bold" font-style="normal" text-anchor="start" >L</text>
<text x="185.30" y="319.25" font-size="6.6" font-weight="bold" font-style="italic" text-anchor="middle" >pcrA</text>
<g transform="translate(134.77,359.05) rotate(-90)"><text x="0" y="0" font-size="5.85" font-weight="bold" text-anchor="middle">Gene expression</text><text x="0" y="6.9" font-size="5.85" font-weight="bold" text-anchor="middle">(relative to mono-species)</text></g>
<line x1="174.95" y1="359.35" x2="174.95" y2="359.95" stroke="#aeaac8" stroke-width="1.1"/>
<line x1="171.65" y1="359.35" x2="178.25" y2="359.35" stroke="#aeaac8" stroke-width="1.1"/>
<rect x="168.60" y="360.55" width="12.70" height="29.25" fill="#a68ad8" stroke="#3d2080" stroke-width="1.2"/>
<line x1="195.75" y1="338.46" x2="195.75" y2="346.52" stroke="#98b0f6" stroke-width="1.1"/>
<line x1="192.45" y1="338.46" x2="199.05" y2="338.46" stroke="#98b0f6" stroke-width="1.1"/>
<rect x="189.40" y="347.12" width="12.70" height="42.68" fill="#1ebeff" stroke="#1a48e8" stroke-width="1.2"/>
<line x1="161.30" y1="329.60" x2="161.30" y2="390.30" stroke="#3c3c3c" stroke-width="1"/>
<line x1="160.80" y1="389.80" x2="209.30" y2="389.80" stroke="#3c3c3c" stroke-width="1"/>
<line x1="158.60" y1="389.80" x2="161.30" y2="389.80" stroke="#3c3c3c" stroke-width="0.9"/>
<text x="158.10" y="391.90" font-size="4.7" font-weight="bold" font-style="normal" text-anchor="end" >0.0</text>
<line x1="158.60" y1="374.88" x2="161.30" y2="374.88" stroke="#3c3c3c" stroke-width="0.9"/>
<text x="158.10" y="376.98" font-size="4.7" font-weight="bold" font-style="normal" text-anchor="end" >0.5</text>
<line x1="158.60" y1="359.95" x2="161.30" y2="359.95" stroke="#3c3c3c" stroke-width="0.9"/>
<text x="158.10" y="362.05" font-size="4.7" font-weight="bold" font-style="normal" text-anchor="end" >1.0</text>
<line x1="158.60" y1="345.03" x2="161.30" y2="345.03" stroke="#3c3c3c" stroke-width="0.9"/>
<text x="158.10" y="347.13" font-size="4.7" font-weight="bold" font-style="normal" text-anchor="end" >1.5</text>
<line x1="158.60" y1="330.10" x2="161.30" y2="330.10" stroke="#3c3c3c" stroke-width="0.9"/>
<text x="158.10" y="332.20" font-size="4.7" font-weight="bold" font-style="normal" text-anchor="end" >2.0</text>
<line x1="174.95" y1="389.80" x2="174.95" y2="392.50" stroke="#3c3c3c" stroke-width="0.9"/>
<text transform="translate(177.05,397.70) rotate(-45)" font-size="5.85" font-weight="bold" font-style="italic" text-anchor="end">L. p</text>
<line x1="195.75" y1="389.80" x2="195.75" y2="392.50" stroke="#3c3c3c" stroke-width="0.9"/>
<text transform="translate(197.85,397.70) rotate(-45)" font-size="5.85" font-weight="bold" font-style="italic" text-anchor="end">L. p <tspan dx="0.7" font-size="6.6">•</tspan><tspan dx="0.5"> C. a </tspan><tspan dx="0.5" font-size="6.6">•</tspan><tspan dx="0.5"> S. m</tspan></text>
<line x1="174.95" y1="331.60" x2="195.75" y2="331.60" stroke="#333" stroke-width="1"/>
<circle cx="185.35" cy="328.90" r="1.25" fill="#111"/>
<text x="242.60" y="314.90" font-size="8.9" font-weight="bold" font-style="normal" text-anchor="start" >M</text>
<text x="289.30" y="319.25" font-size="6.6" font-weight="bold" font-style="italic" text-anchor="middle" >pcrA</text>
<g transform="translate(240.07,359.05) rotate(-90)"><text x="0" y="0" font-size="5.85" font-weight="bold" text-anchor="middle">Gene expression</text><text x="0" y="6.9" font-size="5.85" font-weight="bold" text-anchor="middle">(relative to mono-species)</text></g>
<line x1="278.95" y1="385.32" x2="278.95" y2="387.11" stroke="#aeaac8" stroke-width="1.1"/>
<line x1="275.65" y1="385.32" x2="282.25" y2="385.32" stroke="#aeaac8" stroke-width="1.1"/>
<rect x="272.60" y="387.71" width="12.70" height="2.09" fill="#a68ad8" stroke="#3d2080" stroke-width="1.2"/>
<line x1="299.75" y1="334.58" x2="299.75" y2="344.13" stroke="#98b0f6" stroke-width="1.1"/>
<line x1="296.45" y1="334.58" x2="303.05" y2="334.58" stroke="#98b0f6" stroke-width="1.1"/>
<rect x="293.40" y="344.73" width="12.70" height="45.07" fill="#1ebeff" stroke="#1a48e8" stroke-width="1.2"/>
<line x1="265.30" y1="329.60" x2="265.30" y2="390.30" stroke="#3c3c3c" stroke-width="1"/>
<line x1="264.80" y1="389.80" x2="313.30" y2="389.80" stroke="#3c3c3c" stroke-width="1"/>
<line x1="262.60" y1="389.80" x2="265.30" y2="389.80" stroke="#3c3c3c" stroke-width="0.9"/>
<text x="262.10" y="391.90" font-size="4.7" font-weight="bold" font-style="normal" text-anchor="end" >0</text>
<line x1="262.60" y1="374.88" x2="265.30" y2="374.88" stroke="#3c3c3c" stroke-width="0.9"/>
<text x="262.10" y="376.98" font-size="4.7" font-weight="bold" font-style="normal" text-anchor="end" >5</text>
<line x1="262.60" y1="359.95" x2="265.30" y2="359.95" stroke="#3c3c3c" stroke-width="0.9"/>
<text x="262.10" y="362.05" font-size="4.7" font-weight="bold" font-style="normal" text-anchor="end" >10</text>
<line x1="262.60" y1="345.03" x2="265.30" y2="345.03" stroke="#3c3c3c" stroke-width="0.9"/>
<text x="262.10" y="347.13" font-size="4.7" font-weight="bold" font-style="normal" text-anchor="end" >15</text>
<line x1="262.60" y1="330.10" x2="265.30" y2="330.10" stroke="#3c3c3c" stroke-width="0.9"/>
<text x="262.10" y="332.20" font-size="4.7" font-weight="bold" font-style="normal" text-anchor="end" >20</text>
<line x1="278.95" y1="389.80" x2="278.95" y2="392.50" stroke="#3c3c3c" stroke-width="0.9"/>
<text transform="translate(281.05,397.70) rotate(-45)" font-size="5.85" font-weight="bold" font-style="italic" text-anchor="end">L. p</text>
<line x1="299.75" y1="389.80" x2="299.75" y2="392.50" stroke="#3c3c3c" stroke-width="0.9"/>
<text transform="translate(301.85,397.70) rotate(-45)" font-size="5.85" font-weight="bold" font-style="italic" text-anchor="end">L. p <tspan dx="0.7" font-size="6.6">•</tspan><tspan dx="0.5"> C. a </tspan><tspan dx="0.5" font-size="6.6">•</tspan><tspan dx="0.5"> S. m</tspan></text>
<line x1="278.95" y1="327.50" x2="299.75" y2="327.50" stroke="#333" stroke-width="1"/>
<circle cx="287.53" cy="324.80" r="1.25" fill="#111"/>
<circle cx="291.18" cy="324.80" r="1.25" fill="#111"/>
<text x="344.40" y="314.90" font-size="8.9" font-weight="bold" font-style="normal" text-anchor="start" >N</text>
<text x="389.50" y="319.25" font-size="6.6" font-weight="bold" font-style="italic" text-anchor="middle" >pcrA</text>
<g transform="translate(342.89,359.05) rotate(-90)"><text x="0" y="0" font-size="5.85" font-weight="bold" text-anchor="middle">Gene expression</text><text x="0" y="6.9" font-size="5.85" font-weight="bold" text-anchor="middle">(relative to mono-species)</text></g>
<line x1="379.15" y1="381.96" x2="379.15" y2="382.49" stroke="#aeaac8" stroke-width="1.1"/>
<line x1="375.85" y1="381.96" x2="382.45" y2="381.96" stroke="#aeaac8" stroke-width="1.1"/>
<rect x="372.80" y="383.09" width="12.70" height="6.71" fill="#a68ad8" stroke="#3d2080" stroke-width="1.2"/>
<line x1="399.95" y1="342.79" x2="399.95" y2="367.79" stroke="#98b0f6" stroke-width="1.1"/>
<line x1="396.65" y1="342.79" x2="403.25" y2="342.79" stroke="#98b0f6" stroke-width="1.1"/>
<rect x="393.60" y="368.39" width="12.70" height="21.41" fill="#1ebeff" stroke="#1a48e8" stroke-width="1.2"/>
<line x1="365.50" y1="329.60" x2="365.50" y2="390.30" stroke="#3c3c3c" stroke-width="1"/>
<line x1="365.00" y1="389.80" x2="413.50" y2="389.80" stroke="#3c3c3c" stroke-width="1"/>
<line x1="362.80" y1="389.80" x2="365.50" y2="389.80" stroke="#3c3c3c" stroke-width="0.9"/>
<text x="362.30" y="391.90" font-size="4.7" font-weight="bold" font-style="normal" text-anchor="end" >0</text>
<line x1="362.80" y1="374.88" x2="365.50" y2="374.88" stroke="#3c3c3c" stroke-width="0.9"/>
<text x="362.30" y="376.98" font-size="4.7" font-weight="bold" font-style="normal" text-anchor="end" >2</text>
<line x1="362.80" y1="359.95" x2="365.50" y2="359.95" stroke="#3c3c3c" stroke-width="0.9"/>
<text x="362.30" y="362.05" font-size="4.7" font-weight="bold" font-style="normal" text-anchor="end" >4</text>
<line x1="362.80" y1="345.03" x2="365.50" y2="345.03" stroke="#3c3c3c" stroke-width="0.9"/>
<text x="362.30" y="347.13" font-size="4.7" font-weight="bold" font-style="normal" text-anchor="end" >6</text>
<line x1="362.80" y1="330.10" x2="365.50" y2="330.10" stroke="#3c3c3c" stroke-width="0.9"/>
<text x="362.30" y="332.20" font-size="4.7" font-weight="bold" font-style="normal" text-anchor="end" >8</text>
<line x1="379.15" y1="389.80" x2="379.15" y2="392.50" stroke="#3c3c3c" stroke-width="0.9"/>
<text transform="translate(381.25,397.70) rotate(-45)" font-size="5.85" font-weight="bold" font-style="italic" text-anchor="end">L. p</text>
<line x1="399.95" y1="389.80" x2="399.95" y2="392.50" stroke="#3c3c3c" stroke-width="0.9"/>
<text transform="translate(402.05,397.70) rotate(-45)" font-size="5.85" font-weight="bold" font-style="italic" text-anchor="end">L. p <tspan dx="0.7" font-size="6.6">•</tspan><tspan dx="0.5"> C. a </tspan><tspan dx="0.5" font-size="6.6">•</tspan><tspan dx="0.5"> S. m</tspan></text>
<text x="446.40" y="314.90" font-size="8.9" font-weight="bold" font-style="normal" text-anchor="start" >O</text>
<text x="494.40" y="320.55" font-size="6.6" font-weight="bold" font-style="italic" text-anchor="middle" >pcrA</text>
<g transform="translate(443.87,360.50) rotate(-90)"><text x="0" y="0" font-size="5.85" font-weight="bold" text-anchor="middle">Gene expression</text><text x="0" y="6.9" font-size="5.85" font-weight="bold" text-anchor="middle">(relative to mono-species)</text></g>
<line x1="484.05" y1="339.80" x2="484.05" y2="351.40" stroke="#aeaac8" stroke-width="1.1"/>
<line x1="480.75" y1="339.80" x2="487.35" y2="339.80" stroke="#aeaac8" stroke-width="1.1"/>
<rect x="477.70" y="352.00" width="12.70" height="39.40" fill="#a68ad8" stroke="#3d2080" stroke-width="1.2"/>
<line x1="504.85" y1="343.40" x2="504.85" y2="362.60" stroke="#98b0f6" stroke-width="1.1"/>
<line x1="501.55" y1="343.40" x2="508.15" y2="343.40" stroke="#98b0f6" stroke-width="1.1"/>
<rect x="498.50" y="363.20" width="12.70" height="28.20" fill="#1ebeff" stroke="#1a48e8" stroke-width="1.2"/>
<line x1="470.40" y1="330.90" x2="470.40" y2="391.90" stroke="#3c3c3c" stroke-width="1"/>
<line x1="469.90" y1="391.40" x2="518.40" y2="391.40" stroke="#3c3c3c" stroke-width="1"/>
<line x1="467.70" y1="391.40" x2="470.40" y2="391.40" stroke="#3c3c3c" stroke-width="0.9"/>
<text x="467.20" y="393.50" font-size="4.7" font-weight="bold" font-style="normal" text-anchor="end" >0.0</text>
<line x1="467.70" y1="371.40" x2="470.40" y2="371.40" stroke="#3c3c3c" stroke-width="0.9"/>
<text x="467.20" y="373.50" font-size="4.7" font-weight="bold" font-style="normal" text-anchor="end" >0.5</text>
<line x1="467.70" y1="351.40" x2="470.40" y2="351.40" stroke="#3c3c3c" stroke-width="0.9"/>
<text x="467.20" y="353.50" font-size="4.7" font-weight="bold" font-style="normal" text-anchor="end" >1.0</text>
<line x1="467.70" y1="331.40" x2="470.40" y2="331.40" stroke="#3c3c3c" stroke-width="0.9"/>
<text x="467.20" y="333.50" font-size="4.7" font-weight="bold" font-style="normal" text-anchor="end" >1.5</text>
<line x1="484.05" y1="391.40" x2="484.05" y2="394.10" stroke="#3c3c3c" stroke-width="0.9"/>
<text transform="translate(486.15,399.30) rotate(-45)" font-size="5.85" font-weight="bold" font-style="italic" text-anchor="end">L. p</text>
<line x1="504.85" y1="391.40" x2="504.85" y2="394.10" stroke="#3c3c3c" stroke-width="0.9"/>
<text transform="translate(506.95,399.30) rotate(-45)" font-size="5.85" font-weight="bold" font-style="italic" text-anchor="end">L. p <tspan dx="0.7" font-size="6.6">•</tspan><tspan dx="0.5"> C. a </tspan><tspan dx="0.5" font-size="6.6">•</tspan><tspan dx="0.5"> S. m</tspan></text>
</svg>
</body></html>
